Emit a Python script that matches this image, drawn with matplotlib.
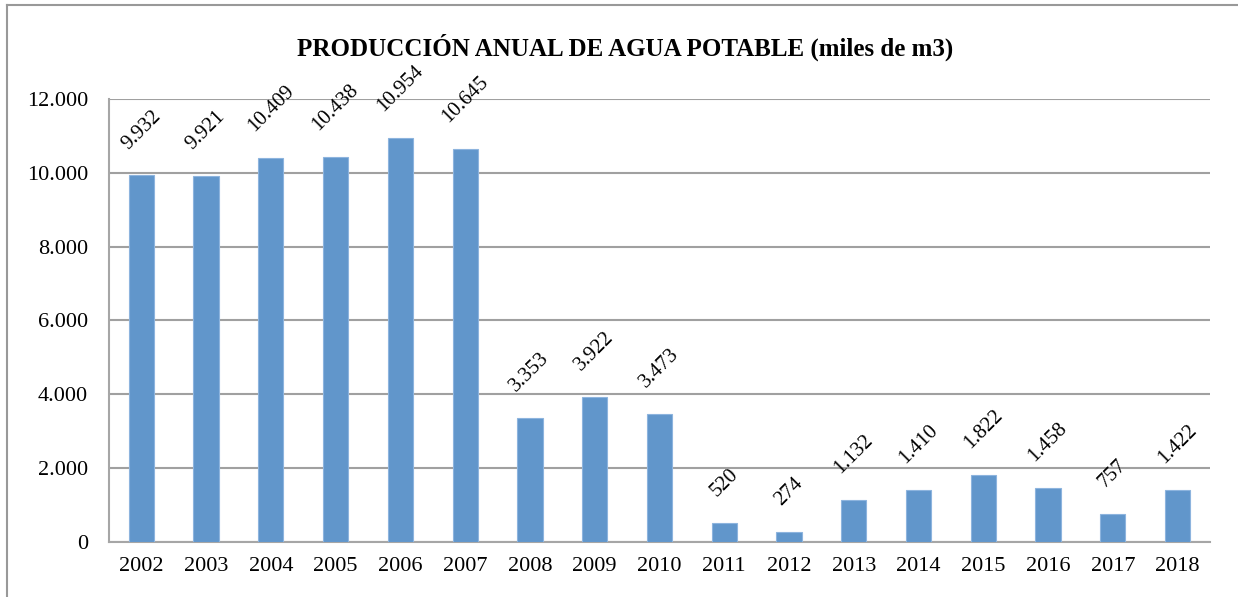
import matplotlib
matplotlib.use("Agg")
import matplotlib.pyplot as plt
from matplotlib.lines import Line2D
from matplotlib.ticker import FuncFormatter

# datos (miles de m3)
anios = ['2002', '2003', '2004', '2005', '2006', '2007', '2008', '2009', '2010',
         '2011', '2012', '2013', '2014', '2015', '2016', '2017', '2018']
produccion = [9932, 9921, 10409, 10438, 10954, 10645, 3353, 3922, 3473,
              520, 274, 1132, 1410, 1822, 1458, 757, 1422]
titulo = 'PRODUCCIÓN ANUAL DE AGUA POTABLE (miles de m3)'


def miles(v, pos=None):
    return f'{int(v):,}'.replace(',', '.')


plt.rcParams['font.family'] = ['Liberation Serif', 'DejaVu Serif']

fig = plt.figure(figsize=(12.38, 5.97), dpi=100)
ax = fig.add_axes([0.088, 0.0921, 0.8894, 0.7421])

x = range(len(anios))
barras = ax.bar(x, produccion, width=0.39, color='#6196CB', edgecolor='#8DB4DE',
                linewidth=0.8, zorder=3)

for xi, v in zip(x, produccion):
    ax.annotate(miles(v), (xi, v), xytext=(0, 16), textcoords='offset points',
                ha='center', va='bottom', rotation=45, fontsize=15, color='black')

ax.set_xlim(-0.5, len(anios) - 0.5)
ax.set_ylim(0, 12000)
ax.set_yticks(range(0, 12001, 2000))
ax.yaxis.set_major_formatter(FuncFormatter(miles))
ax.set_xticks(list(x))
ax.set_xticklabels(anios)
ax.tick_params(axis='both', length=0, labelsize=16)
ax.tick_params(axis='y', pad=15)
ax.tick_params(axis='x', pad=11)

ax.grid(axis='y', color='#A0A0A0', linewidth=1.5, zorder=0)
for lado in ['top', 'right']:
    ax.spines[lado].set_visible(False)
for lado in ['left', 'bottom']:
    ax.spines[lado].set_color('#A6A6A6')
    ax.spines[lado].set_linewidth(1.5)

fig.text(0.505, 0.921, titulo, ha='center', va='center', fontsize=18, fontweight='bold')

# marco del grafico
xb = 7 / 1238
yb = 1 - 5 / 597
fig.add_artist(Line2D([xb, xb], [0, yb], transform=fig.transFigure, color='#999999', linewidth=1.5))
fig.add_artist(Line2D([xb, 1], [yb, yb], transform=fig.transFigure, color='#999999', linewidth=1.5))

fig.savefig('out.png', dpi=100)
